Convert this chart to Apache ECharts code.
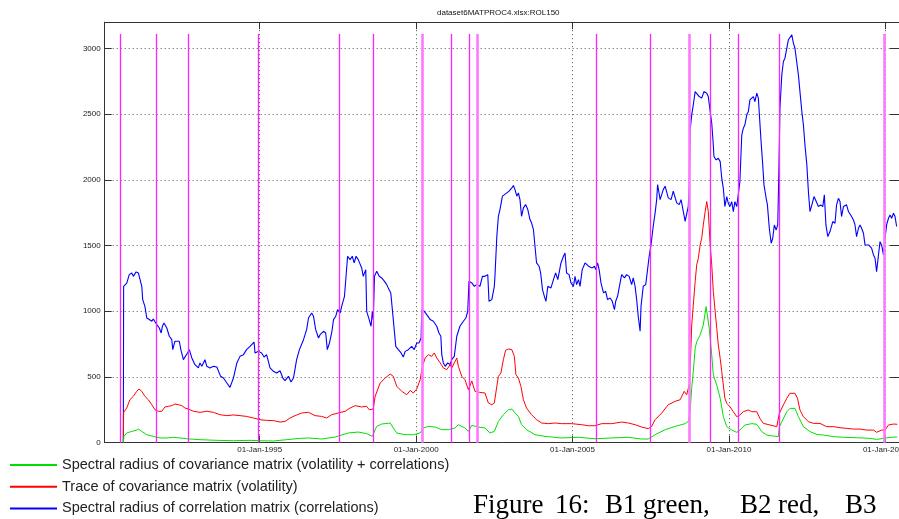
<!DOCTYPE html>
<html><head><meta charset="utf-8">
<script src="https://cdn.jsdelivr.net/npm/echarts@6/dist/echarts.min.js"></script>
<style>html,body{margin:0;padding:0;background:#fff}#c{width:899px;height:519px}</style>
</head><body><div id="c"></div>
<script>
const chartTitle = 'dataset6MATPROC4.xlsx:ROL150';
const seriesNames = [
  'Spectral radius of covariance matrix (volatility + correlations)',
  'Trace of covariance matrix (volatility)',
  'Spectral radius of correlation matrix (correlations)'
];
const xTickYears = [1995, 2000, 2005, 2010, 2015];
const yMin = 0, yMax = 3200, yStep = 500;
const xMin = 1990.045, xMax = 2015.5;
const eventTop = 3110;
const eventDates = [1990.55, 1991.69, 1992.70, 1994.96, 1997.54, 1998.63, 2001.13, 2001.70, 2005.77, 2007.49, 2009.41, 2010.31, 2011.61];
const eventDatesLight = [2000.19, 2001.97, 2008.73, 2014.97];
const captionWords = ['Figure', '16:', 'B1', 'green,', 'B2', 'red,', 'B3'];

const greenData = [[1990.64,0],[1990.66,48],[1990.75,74],[1990.91,86],[1991.05,94],[1991.12,104],[1991.23,86],[1991.39,61],[1991.60,48],[1991.81,36],[1992.03,36],[1992.24,41],[1992.45,36],[1992.67,30],[1993.09,23],[1993.63,18],[1994.16,15],[1994.69,18],[1995.01,15],[1995.44,13],[1995.86,23],[1996.29,33],[1996.56,36],[1996.98,28],[1997.41,43],[1997.83,74],[1998.15,81],[1998.42,69],[1998.60,48],[1998.74,124],[1998.90,142],[1999.17,150],[1999.27,112],[1999.38,74],[1999.65,61],[1999.91,61],[2000.13,74],[2000.23,112],[2000.39,124],[2000.61,119],[2000.82,99],[2001.03,99],[2001.24,112],[2001.35,137],[2001.56,112],[2001.67,86],[2001.78,132],[2001.99,119],[2002.20,112],[2002.36,74],[2002.50,86],[2002.63,162],[2002.79,213],[2002.95,251],[2003.06,256],[2003.16,226],[2003.27,200],[2003.37,137],[2003.53,99],[2003.80,61],[2004.12,48],[2004.65,36],[2005.19,41],[2005.72,30],[2006.25,36],[2006.78,41],[2007.21,28],[2007.42,28],[2007.64,61],[2007.96,99],[2008.28,124],[2008.60,145],[2008.70,162],[2008.76,236],[2008.81,420],[2008.86,541],[2008.92,718],[2008.97,769],[2009.08,820],[2009.18,896],[2009.27,1036],[2009.31,1048],[2009.37,871],[2009.45,668],[2009.50,515],[2009.61,439],[2009.72,338],[2009.82,198],[2009.93,122],[2010.09,96],[2010.25,79],[2010.35,96],[2010.51,135],[2010.73,145],[2010.89,140],[2011.05,84],[2011.21,58],[2011.42,51],[2011.58,46],[2011.61,120],[2011.69,160],[2011.85,236],[2011.95,261],[2012.11,261],[2012.22,198],[2012.38,122],[2012.59,84],[2012.81,63],[2013.02,58],[2013.34,46],[2013.66,41],[2014.08,38],[2014.51,33],[2014.72,25],[2014.94,33],[2015.15,41],[2015.38,43]];

const redData = [[1990.64,0],[1990.65,231],[1990.75,264],[1990.85,327],[1990.96,353],[1991.07,391],[1991.14,409],[1991.23,391],[1991.33,353],[1991.44,327],[1991.55,289],[1991.65,251],[1991.76,239],[1991.87,239],[1991.97,272],[1992.08,277],[1992.19,282],[1992.29,294],[1992.40,289],[1992.51,282],[1992.61,264],[1992.72,256],[1992.88,239],[1993.09,231],[1993.31,239],[1993.52,231],[1993.73,213],[1993.95,206],[1994.16,211],[1994.37,206],[1994.58,200],[1994.80,188],[1995.01,175],[1995.22,170],[1995.44,168],[1995.65,157],[1995.81,162],[1995.97,188],[1996.13,206],[1996.34,226],[1996.56,231],[1996.77,206],[1996.98,200],[1997.14,188],[1997.30,213],[1997.51,226],[1997.73,239],[1997.89,264],[1998.05,282],[1998.26,272],[1998.42,277],[1998.50,251],[1998.63,256],[1998.69,353],[1998.85,454],[1999.01,492],[1999.17,523],[1999.27,505],[1999.38,429],[1999.54,391],[1999.70,365],[1999.81,398],[1999.91,378],[2000.02,409],[2000.13,480],[2000.20,581],[2000.29,645],[2000.39,670],[2000.50,657],[2000.58,683],[2000.66,645],[2000.77,607],[2000.87,569],[2000.98,556],[2001.09,594],[2001.14,569],[2001.22,607],[2001.30,645],[2001.35,581],[2001.46,505],[2001.56,480],[2001.67,404],[2001.78,470],[2001.88,391],[2002.04,383],[2002.20,378],[2002.31,302],[2002.42,289],[2002.50,302],[2002.52,315],[2002.58,429],[2002.63,505],[2002.71,530],[2002.79,632],[2002.86,703],[2002.95,713],[2003.06,708],[2003.14,657],[2003.19,518],[2003.27,492],[2003.35,429],[2003.43,327],[2003.53,264],[2003.69,213],[2003.85,175],[2004.01,150],[2004.23,145],[2004.44,150],[2004.65,145],[2004.97,145],[2005.29,137],[2005.51,129],[2005.72,129],[2005.93,145],[2006.25,145],[2006.57,157],[2006.78,150],[2007.00,137],[2007.21,119],[2007.42,107],[2007.53,124],[2007.64,175],[2007.85,226],[2008.06,289],[2008.28,315],[2008.44,327],[2008.57,391],[2008.65,365],[2008.70,378],[2008.74,450],[2008.76,566],[2008.81,896],[2008.86,1048],[2008.92,1226],[2008.97,1353],[2009.02,1403],[2009.08,1505],[2009.13,1556],[2009.18,1657],[2009.24,1759],[2009.29,1835],[2009.34,1759],[2009.40,1505],[2009.45,1353],[2009.50,1150],[2009.56,998],[2009.61,871],[2009.66,744],[2009.72,642],[2009.77,541],[2009.82,439],[2009.87,338],[2009.93,299],[2010.03,274],[2010.14,236],[2010.25,198],[2010.35,211],[2010.46,236],[2010.62,249],[2010.73,236],[2010.89,236],[2010.99,185],[2011.10,147],[2011.31,135],[2011.53,122],[2011.58,125],[2011.61,223],[2011.74,287],[2011.85,338],[2011.95,376],[2012.11,376],[2012.19,338],[2012.27,249],[2012.38,198],[2012.54,160],[2012.70,147],[2012.91,147],[2013.12,122],[2013.34,122],[2013.55,114],[2013.76,109],[2013.98,104],[2014.19,104],[2014.40,96],[2014.62,96],[2014.72,79],[2014.88,96],[2014.99,96],[2015.10,135],[2015.26,142],[2015.38,140]];

const blueData = [[1990.64,0],[1990.65,1190],[1990.66,1190],[1990.75,1215],[1990.83,1279],[1990.91,1292],[1990.96,1266],[1991.05,1300],[1991.12,1292],[1991.18,1287],[1991.23,1190],[1991.26,1089],[1991.33,1038],[1991.39,949],[1991.47,937],[1991.55,924],[1991.60,942],[1991.65,937],[1991.71,898],[1991.79,873],[1991.85,835],[1991.89,886],[1991.94,911],[1992.00,924],[1992.03,873],[1992.11,810],[1992.19,784],[1992.22,708],[1992.29,772],[1992.43,772],[1992.48,708],[1992.56,632],[1992.62,645],[1992.69,683],[1992.75,708],[1992.83,645],[1992.93,594],[1993.04,569],[1993.09,607],[1993.15,581],[1993.25,632],[1993.31,581],[1993.41,569],[1993.52,581],[1993.63,576],[1993.68,569],[1993.75,505],[1993.84,492],[1993.95,454],[1994.05,421],[1994.16,492],[1994.21,492],[1994.27,607],[1994.37,657],[1994.48,670],[1994.58,708],[1994.69,733],[1994.74,721],[1994.82,766],[1994.85,683],[1994.96,695],[1995.06,683],[1995.14,652],[1995.22,670],[1995.33,569],[1995.44,543],[1995.54,530],[1995.65,548],[1995.74,492],[1995.81,472],[1995.92,505],[1996.00,462],[1996.08,492],[1996.13,500],[1996.18,632],[1996.27,708],[1996.40,784],[1996.50,860],[1996.56,949],[1996.66,987],[1996.72,962],[1996.79,860],[1996.88,797],[1996.93,822],[1997.04,848],[1997.11,835],[1997.16,708],[1997.23,759],[1997.30,835],[1997.36,937],[1997.43,962],[1997.49,1013],[1997.57,987],[1997.62,1038],[1997.71,1114],[1997.76,1127],[1997.81,1419],[1997.89,1393],[1997.96,1419],[1998.02,1368],[1998.08,1419],[1998.15,1393],[1998.21,1393],[1998.26,1330],[1998.31,1266],[1998.39,1317],[1998.42,1000],[1998.50,937],[1998.56,886],[1998.60,1000],[1998.63,937],[1998.67,1266],[1998.74,1305],[1998.82,1266],[1998.90,1254],[1998.99,1228],[1999.06,1203],[1999.11,1178],[1999.19,1140],[1999.24,1127],[1999.29,886],[1999.35,733],[1999.43,708],[1999.52,683],[1999.59,652],[1999.65,695],[1999.75,708],[1999.86,733],[1999.94,708],[2000.02,759],[2000.09,759],[2000.16,797],[2000.18,1013],[2000.26,1000],[2000.34,975],[2000.45,937],[2000.55,924],[2000.66,886],[2000.73,835],[2000.79,810],[2000.82,670],[2000.87,607],[2000.93,581],[2001.01,607],[2001.08,594],[2001.14,632],[2001.22,657],[2001.30,810],[2001.40,886],[2001.51,924],[2001.59,949],[2001.65,1000],[2001.69,1228],[2001.78,1216],[2001.86,1190],[2001.94,1203],[2002.04,1190],[2002.12,1266],[2002.20,1266],[2002.29,1279],[2002.33,1076],[2002.42,1089],[2002.50,1190],[2002.52,1266],[2002.58,1571],[2002.63,1723],[2002.68,1774],[2002.76,1876],[2002.82,1888],[2002.90,1901],[2002.97,1914],[2003.06,1939],[2003.11,1957],[2003.16,1926],[2003.22,1876],[2003.27,1901],[2003.32,1850],[2003.37,1723],[2003.43,1787],[2003.50,1812],[2003.57,1774],[2003.64,1698],[2003.69,1673],[2003.75,1622],[2003.80,1495],[2003.85,1368],[2003.93,1343],[2003.98,1292],[2004.04,1165],[2004.10,1114],[2004.15,1076],[2004.21,1190],[2004.25,1203],[2004.31,1178],[2004.39,1241],[2004.46,1292],[2004.53,1241],[2004.58,1228],[2004.63,1368],[2004.71,1419],[2004.76,1444],[2004.81,1292],[2004.89,1279],[2004.95,1216],[2005.03,1190],[2005.08,1266],[2005.13,1203],[2005.19,1241],[2005.24,1190],[2005.31,1317],[2005.40,1368],[2005.45,1381],[2005.51,1343],[2005.56,1355],[2005.63,1330],[2005.70,1343],[2005.74,1317],[2005.80,1368],[2005.85,1317],[2005.91,1216],[2005.99,1140],[2006.06,1152],[2006.12,1089],[2006.20,1101],[2006.27,1076],[2006.34,1013],[2006.38,1076],[2006.44,1114],[2006.52,1216],[2006.57,1279],[2006.66,1254],[2006.73,1279],[2006.81,1266],[2006.89,1203],[2006.94,1254],[2007.00,1190],[2007.05,1089],[2007.10,962],[2007.16,848],[2007.19,1038],[2007.26,1190],[2007.34,1203],[2007.40,1216],[2007.45,1419],[2007.51,1508],[2007.58,1647],[2007.64,1749],[2007.69,1850],[2007.72,1965],[2007.80,1850],[2007.85,1863],[2007.90,1926],[2007.96,1952],[2008.01,1965],[2008.06,1863],[2008.15,1850],[2008.22,1914],[2008.28,1926],[2008.33,1825],[2008.41,1812],[2008.47,1850],[2008.54,1761],[2008.60,1685],[2008.65,1698],[2008.70,1799],[2008.73,1950],[2008.76,2380],[2008.81,2495],[2008.86,2571],[2008.92,2672],[2008.97,2660],[2009.05,2634],[2009.13,2622],[2009.20,2672],[2009.29,2660],[2009.34,2634],[2009.40,2520],[2009.45,2431],[2009.50,2266],[2009.52,2178],[2009.59,2152],[2009.66,2165],[2009.72,2139],[2009.77,2013],[2009.82,1936],[2009.87,1797],[2009.93,1873],[2009.98,1822],[2010.03,1797],[2010.09,1835],[2010.14,1759],[2010.19,1835],[2010.25,1797],[2010.30,1810],[2010.35,1987],[2010.41,2343],[2010.46,2393],[2010.51,2419],[2010.57,2495],[2010.62,2520],[2010.67,2609],[2010.73,2609],[2010.78,2634],[2010.83,2596],[2010.89,2660],[2010.94,2622],[2010.97,2507],[2011.02,2317],[2011.08,2114],[2011.12,1962],[2011.19,1860],[2011.23,1810],[2011.29,1632],[2011.35,1518],[2011.40,1556],[2011.45,1657],[2011.51,1619],[2011.56,1657],[2011.60,2114],[2011.63,2546],[2011.69,2799],[2011.74,2901],[2011.79,2926],[2011.85,2939],[2011.90,3066],[2011.95,3079],[2012.01,3104],[2012.06,3041],[2012.11,3002],[2012.17,2990],[2012.22,2799],[2012.27,2672],[2012.33,2520],[2012.38,2419],[2012.43,2266],[2012.49,2114],[2012.54,1911],[2012.59,1759],[2012.65,1810],[2012.72,1873],[2012.78,1860],[2012.86,1797],[2012.93,1810],[2013.00,1797],[2013.05,1886],[2013.10,1657],[2013.16,1568],[2013.23,1607],[2013.32,1683],[2013.39,1670],[2013.44,1810],[2013.50,1860],[2013.55,1835],[2013.60,1721],[2013.66,1797],[2013.71,1784],[2013.76,1810],[2013.82,1759],[2013.87,1746],[2013.92,1721],[2013.98,1695],[2014.03,1657],[2014.08,1568],[2014.14,1632],[2014.19,1657],[2014.24,1632],[2014.30,1594],[2014.35,1505],[2014.40,1518],[2014.46,1505],[2014.51,1492],[2014.56,1480],[2014.62,1429],[2014.67,1404],[2014.72,1302],[2014.78,1429],[2014.83,1530],[2014.88,1505],[2014.94,1429],[2014.99,1556],[2015.04,1657],[2015.10,1708],[2015.15,1733],[2015.20,1708],[2015.26,1746],[2015.31,1721],[2015.36,1645]];

const chart = echarts.init(document.getElementById('c'), null, {renderer: 'canvas'});
const axisColor = '#333';
const tickFont = {fontFamily: 'Liberation Sans', fontSize: 8, color: '#222'};
const grid = {left: 104.7, right: -2, top: 22.2, bottom: 76.3, containLabel: false, outerBoundsMode: 'none'};
const dotted = {color: '#555', width: 1, type: [1, 3]};

function eventLines(dates) {
  return dates.map(d => [{coord: [d, 0]}, {coord: [d, eventTop]}]);
}

const captionX = [473, 555, 605, 643, 740, 778, 845];

const option = {
  animation: false,
  backgroundColor: '#fff',
  title: {
    text: chartTitle, left: 437, top: 9, padding: 0,
    textStyle: {fontFamily: 'Liberation Sans', fontSize: 8, fontWeight: 'normal', color: '#111'}
  },
  legend: {
    orient: 'vertical', left: 10, top: 457, padding: 0,
    itemWidth: 47, itemHeight: 2, itemGap: 5.7, icon: 'rect',
    data: seriesNames,
    textStyle: {fontFamily: 'Liberation Sans', fontSize: 14.5, color: '#222', lineHeight: 16}
  },
  grid: grid,
  xAxis: [{
    type: 'value', min: xMin, max: xMax, position: 'bottom',
    axisLine: {show: true, onZero: false, lineStyle: {color: axisColor}},
    axisTick: {show: true, inside: true, length: 7, customValues: xTickYears, lineStyle: {color: axisColor}},
    axisLabel: Object.assign({show: true, margin: 3, customValues: xTickYears, hideOverlap: false,
      formatter: v => '01-Jan-' + Math.round(v)}, tickFont),
    splitLine: {show: true, lineStyle: dotted}
  }, {
    type: 'value', min: xMin, max: xMax, position: 'top',
    axisLine: {show: true, onZero: false, lineStyle: {color: axisColor}},
    axisTick: {show: true, inside: true, length: 7, customValues: xTickYears, lineStyle: {color: axisColor}},
    axisLabel: {show: false},
    splitLine: {show: false}
  }],
  yAxis: [{
    type: 'value', min: yMin, max: yMax, interval: yStep, position: 'left',
    axisLine: {show: true, onZero: false, lineStyle: {color: axisColor}},
    axisTick: {show: true, inside: true, length: 7, lineStyle: {color: axisColor}},
    axisLabel: Object.assign({show: true, margin: 4, showMaxLabel: false, formatter: v => String(v)}, tickFont),
    splitLine: {show: true, lineStyle: dotted}
  }, {
    type: 'value', min: yMin, max: yMax, interval: yStep, position: 'right',
    axisLine: {show: true, onZero: false, lineStyle: {color: axisColor}},
    axisTick: {show: true, inside: true, length: 11, lineStyle: {color: axisColor}},
    axisLabel: {show: false},
    splitLine: {show: false}
  }],
  series: [
    {
      type: 'line', name: '__events', data: [], silent: true,
      markLine: {
        silent: true, symbol: ['none', 'none'], label: {show: false}, animation: false,
        lineStyle: {color: '#ff22ff', width: 1.3, type: 'solid'},
        data: eventLines(eventDates)
      }
    },
    {
      type: 'line', name: '__eventsLight', data: [], silent: true,
      markLine: {
        silent: true, symbol: ['none', 'none'], label: {show: false}, animation: false,
        lineStyle: {color: '#ff77ff', width: 2.6, type: 'solid'},
        data: eventLines(eventDatesLight)
      }
    },
    {type: 'line', name: seriesNames[2], data: blueData, showSymbol: false, color: '#0000ff', lineStyle: {width: 1.1}},
    {type: 'line', name: seriesNames[1], data: redData, showSymbol: false, color: '#ff0000', lineStyle: {width: 1}},
    {type: 'line', name: seriesNames[0], data: greenData, showSymbol: false, color: '#00e000', lineStyle: {width: 1}}
  ],
  graphic: captionWords.map((w, i) => ({
    type: 'text', left: captionX[i], top: 492, silent: true,
    style: {text: w, font: '27px "Liberation Serif"', fill: '#000'}
  }))
};
chart.setOption(option);
</script>
</body></html>
